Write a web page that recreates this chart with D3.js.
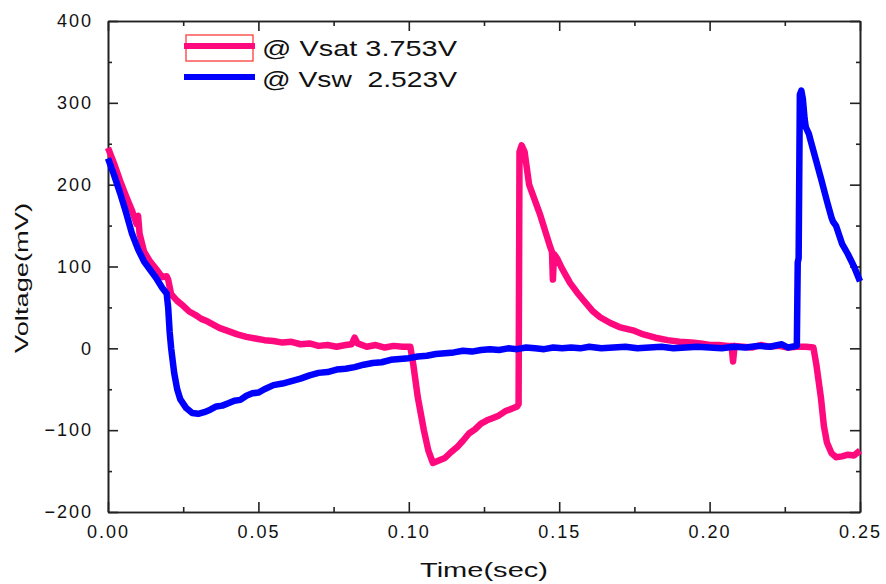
<!DOCTYPE html>
<html>
<head>
<meta charset="utf-8">
<script src="https://cdn.jsdelivr.net/npm/d3@7/dist/d3.min.js"></script>
<style>
  body { margin: 0; background: #fff; }
  svg { display: block; }
  text { font-family: "Liberation Sans", Arial, sans-serif; fill: #111; }
  .tick text { font-size: 18px; letter-spacing: 2px; }
  .axis path, .axis line { stroke: #222; stroke-width: 1.6px; }
</style>
</head>
<body>
<div class="viz"></div>
<script>
var margin = { top: 21, right: 26, bottom: 72, left: 108 },
    W = 886,
    H = 584,
    width = W - margin.left - margin.right,
    height = H - margin.top - margin.bottom;

// legend labels and colours
const seriesNames = ["@ Vsat 3.753V", "@ Vsw  2.523V"];
const seriesColors = ["#ff0a7e", "#0000ff"];

// axis ticks
const xMajor = [0, 0.05, 0.10, 0.15, 0.20, 0.25];
const xMinor = [0.025, 0.075, 0.125, 0.175, 0.225];
const yMajor = [-200, -100, 0, 100, 200, 300, 400];
const yMinor = [-150, -50, 50, 150, 250, 350];

// Vsat trace: time (sec), voltage (mV)
const vsatTime = [0, 0.002, 0.004, 0.006, 0.008, 0.0095, 0.0100, 0.0105, 0.012, 0.014, 0.016, 0.018, 0.0195, 0.020,
    0.021, 0.023, 0.025, 0.027, 0.029, 0.031, 0.033, 0.035, 0.037, 0.040, 0.043, 0.046, 0.049, 0.052, 0.055, 0.058,
    0.061, 0.064, 0.067, 0.070, 0.073, 0.076, 0.079, 0.081, 0.082, 0.083, 0.086, 0.089, 0.092, 0.095, 0.098, 0.1005,
    0.1015, 0.103, 0.105, 0.1065, 0.108, 0.110, 0.112, 0.114, 0.116, 0.118, 0.120, 0.122, 0.124, 0.126, 0.128, 0.130,
    0.132, 0.134, 0.136, 0.1365, 0.1368, 0.1375, 0.1385, 0.140, 0.1435, 0.147, 0.1476, 0.1479, 0.1483, 0.1493, 0.151,
    0.1536, 0.156, 0.158, 0.161, 0.1636, 0.167, 0.170, 0.1745, 0.178, 0.182, 0.186, 0.190, 0.194, 0.197, 0.200, 0.203,
    0.206, 0.2073, 0.2078, 0.2083, 0.211, 0.214, 0.217, 0.220, 0.223, 0.226, 0.229, 0.232, 0.2345, 0.2355, 0.237,
    0.238, 0.239, 0.2405, 0.242, 0.244, 0.246, 0.248, 0.250];
const vsatVolt = [245, 226, 205, 186, 168, 152, 162, 140, 118, 106, 97, 87, 88, 84,
    66, 58, 52, 45, 41, 36, 33, 29, 25, 21, 17, 14, 12, 10, 9, 7,
    8, 5, 6, 3, 4, 2, 4, 5, 13, 6, 2, 4, 1, 3, 2, 2,
    -20, -60, -100, -125, -140, -137, -134, -127, -121, -113, -104, -99, -92, -88, -85, -82,
    -77, -74, -71, -68, 240, 248, 240, 200, 165, 124, 118, 84, 115, 110, 97,
    80, 68, 59, 46, 38, 31, 26, 22, 17, 13, 10, 8, 7, 6, 4, 4,
    3, 3, -16, 3, 2, 1, 4, 2, 3, 1, 2, 2, 1, -20, -60,
    -95, -115, -128, -133, -132, -130, -131, -125];

// Vsw trace: time (sec), voltage (mV)
const vswTime = [0, 0.002, 0.004, 0.006, 0.008, 0.010, 0.012, 0.014, 0.016, 0.018, 0.0195, 0.020, 0.0205, 0.021,
    0.022, 0.023, 0.024, 0.026, 0.028, 0.030, 0.032, 0.034, 0.036, 0.038, 0.040, 0.042, 0.044, 0.046, 0.048, 0.050,
    0.052, 0.055, 0.058, 0.061, 0.064, 0.067, 0.070, 0.073, 0.076, 0.079, 0.082, 0.085, 0.088, 0.091, 0.094, 0.097,
    0.100, 0.103, 0.106, 0.109, 0.112, 0.115, 0.118, 0.121, 0.124, 0.127, 0.130, 0.133, 0.136, 0.139, 0.142, 0.145,
    0.148, 0.151, 0.154, 0.157, 0.160, 0.164, 0.168, 0.172, 0.176, 0.180, 0.184, 0.188, 0.192, 0.196, 0.200, 0.204,
    0.208, 0.212, 0.216, 0.220, 0.224, 0.226, 0.229, 0.2293, 0.2296, 0.2300, 0.2305, 0.2310, 0.2316, 0.232, 0.233,
    0.2335, 0.235, 0.237, 0.239, 0.2405, 0.241, 0.242, 0.244, 0.246, 0.248, 0.250];
const vswVolt = [232, 212, 190, 166, 140, 121, 106, 96, 86, 74, 67, 50, 20, 0,
    -30, -50, -62, -73, -79, -80, -78, -75, -71, -70, -67, -64, -63, -58, -55, -54,
    -50, -45, -43, -40, -37, -33, -30, -29, -26, -25, -23, -20, -18, -17, -14, -13,
    -12, -10, -9, -7, -6, -5, -3, -4, -2, -1, -2, 0, -1, 1, 0, -1,
    1, 0, 1, 0, 2, 0, 1, 2, 0, 1, 2, 0, 1, 2, 1, 0,
    2, 1, 3, 2, 5, 1, 3, 105, 110, 310, 315, 305, 280, 270, 262,
    255, 235, 208, 180, 160, 155, 150, 128, 115, 100, 82];

var svg = d3
    .select(".viz")
    .append("svg")
    .attr("width", W)
    .attr("height", H);

var g = svg.append("g").attr("transform", `translate(${margin.left},${margin.top})`);

var x = d3.scaleLinear().domain([0, 0.25]).range([0, width]);
var y = d3.scaleLinear().domain([-200, 400]).range([height, 0]);

/**
 * Frame: major and minor ticks on all four sides, pointing inward
 */
g.append("g").attr("class", "axis").attr("transform", `translate(0,${height})`)
    .call(d3.axisBottom(x).tickValues(xMajor).tickSize(-10).tickSizeOuter(0)
        .tickPadding(13).tickFormat(d3.format(".2f")));
g.append("g").attr("class", "axis").attr("transform", `translate(0,${height})`)
    .call(d3.axisBottom(x).tickValues(xMinor).tickSize(-5).tickSizeOuter(0).tickFormat(""));
g.append("g").attr("class", "axis")
    .call(d3.axisTop(x).tickValues(xMajor).tickSize(-10).tickSizeOuter(0).tickFormat(""));
g.append("g").attr("class", "axis")
    .call(d3.axisTop(x).tickValues(xMinor).tickSize(-5).tickSizeOuter(0).tickFormat(""));
g.append("g").attr("class", "axis")
    .call(d3.axisLeft(y).tickValues(yMajor).tickSize(-10).tickSizeOuter(0).tickPadding(15));
g.append("g").attr("class", "axis")
    .call(d3.axisLeft(y).tickValues(yMinor).tickSize(-4).tickSizeOuter(0).tickFormat(""));
g.append("g").attr("class", "axis").attr("transform", `translate(${width},0)`)
    .call(d3.axisRight(y).tickValues(yMajor).tickSize(-10).tickSizeOuter(0).tickFormat(""));
g.append("g").attr("class", "axis").attr("transform", `translate(${width},0)`)
    .call(d3.axisRight(y).tickValues(yMinor).tickSize(-4).tickSizeOuter(0).tickFormat(""));

/**
 * Traces
 */
var line = d3.line().x((d) => x(d[0])).y((d) => y(d[1]));
var vsat = vsatTime.map((t, i) => [t, vsatVolt[i]]);
var vsw = vswTime.map((t, i) => [t, vswVolt[i]]);

g.append("path")
    .datum(vsat)
    .attr("d", line)
    .attr("fill", "none")
    .attr("stroke", seriesColors[0])
    .attr("stroke-width", 6.5)
    .attr("stroke-linejoin", "round");

g.append("path")
    .datum(vsw)
    .attr("d", line)
    .attr("fill", "none")
    .attr("stroke", seriesColors[1])
    .attr("stroke-width", 6.5)
    .attr("stroke-linejoin", "round");

/**
 * Legend
 */
var legend = svg.append("g").attr("transform", "translate(184,0)");
legend.append("rect")
    .attr("x", 2).attr("y", 35).attr("width", 67).attr("height", 26)
    .attr("fill", "none").attr("stroke", "#ff3b3b").attr("stroke-width", 1.3);
[46, 77].forEach((ly, i) => {
    legend.append("line")
        .attr("x1", 0).attr("x2", 71).attr("y1", ly).attr("y2", ly)
        .attr("stroke", seriesColors[i]).attr("stroke-width", 6);
    legend.append("text")
        .attr("x", 78).attr("y", ly + 10)
        .attr("font-size", 22)
        .attr("textLength", 195)
        .attr("lengthAdjust", "spacingAndGlyphs")
        .style("white-space", "pre")
        .text(seriesNames[i]);
});

/**
 * Axis titles
 */
svg.append("text")
    .attr("x", 420).attr("y", 577)
    .attr("font-size", 21)
    .attr("textLength", 128)
    .attr("lengthAdjust", "spacingAndGlyphs")
    .text("Time(sec)");

svg.append("text")
    .attr("transform", "translate(28,353) rotate(-90)")
    .attr("font-size", 19)
    .attr("textLength", 150)
    .attr("lengthAdjust", "spacingAndGlyphs")
    .text("Voltage(mV)");
</script>
</body>
</html>
